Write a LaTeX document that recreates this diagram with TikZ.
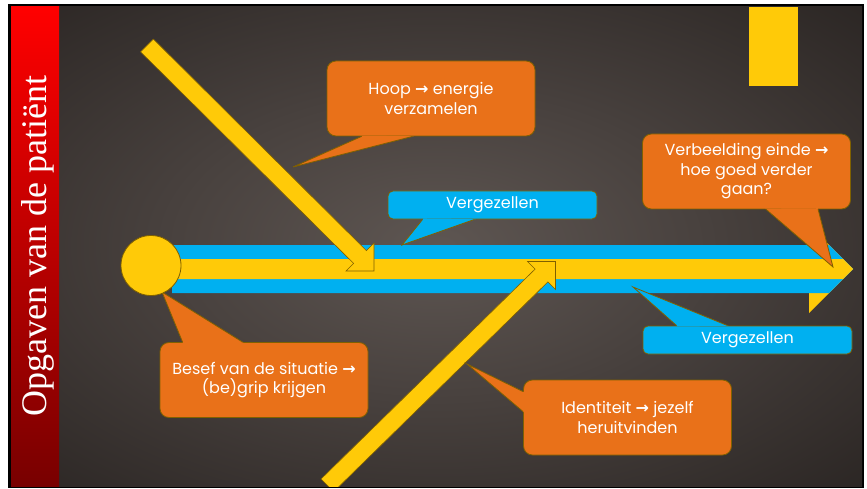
\documentclass[tikz,border=0pt]{standalone}
\usepackage{fontspec}
\usepackage{xcolor}
\usepackage{tikz}
\usetikzlibrary{calc}
\newfontfamily\callfont{Poppins}
\newfontfamily\arrowfont{DejaVu Sans}
\newfontfamily\titlefont{Liberation Serif}

\definecolor{spineyellow}{RGB}{255,202,8}
\definecolor{spineblue}{RGB}{0,176,240}
\definecolor{calloutorange}{RGB}{233,113,25}
\definecolor{rimolive}{RGB}{127,96,0}
\definecolor{bglite}{RGB}{94,86,82}
\definecolor{bgmid}{RGB}{72,65,62}
\definecolor{bgdark}{RGB}{40,35,33}
\definecolor{barred}{RGB}{255,0,0}
\definecolor{bardark}{RGB}{120,0,0}

\pgfdeclareradialshading{slidebg}{\pgfpoint{0bp}{0bp}}{color(0bp)=(bglite); color(16bp)=(bgmid); color(38bp)=(bgdark); color(50bp)=(bgdark)}

\newcommand{\arr}{{\arrowfont\bfseries →}}
% tail of a callout: colour, base a, base b, tip
\newcommand{\calltail}[4]{%
  \fill[#1] ($(#2)!-1.2pt!(#4)$) -- (#4) -- ($(#3)!-1.2pt!(#4)$) -- cycle;
  \draw[rim] (#2) -- (#4) -- (#3);}

\tikzset{
  rim/.style={draw=rimolive, line width=0.8pt, line join=miter},
  yarrow/.style={fill=spineyellow, draw=rimolive, line width=0.6pt},
  bubble/.style={fill=calloutorange, rim, rounded corners=9, minimum width=208, minimum height=75,
    inner sep=0, text=white, align=center, font=\callfont\fontsize{16}{19.5}\selectfont},
  tag/.style={fill=spineblue, rim, rounded corners=5, minimum width=209, minimum height=28,
    inner sep=0, text=white, align=center, font=\callfont\fontsize{16}{19.5}\selectfont}
}

\begin{document}
\begin{tikzpicture}[x=1pt,y=-1pt]
  \useasboundingbox (0,0) rectangle (867,489);
  \fill[white] (0,0) rectangle (867,489);
  \fill[black] (8,4) rectangle (864,488);
  \begin{scope}
  \clip (11,7) rectangle (862,486);
  \shade[shading=slidebg] (11,7) rectangle (862,486);

  % title bar
  \shade[top color=barred, bottom color=bardark] (11,7) rectangle (59,486);
  \node[rotate=90, anchor=base, text=white, font=\titlefont\fontsize{36}{40}\selectfont] (title) at (46.5,246) {Opgaven van de patiënt};

  \fill[spineyellow] (749,7) rectangle (798,86);

  % spine
  \coordinate (c) at (151,265.5);
  \coordinate (tip) at (853,269);
  \fill[spineyellow] (809,225) -- (tip) -- (809,313) -- cycle;
  \fill[spineblue] (172,245) -- (829,245) -- (tip) -- (829,293) -- (172,293) -- cycle;
  \fill[spineyellow] (172,259) -- (843,259) -- (tip) -- (843,279) -- (172,279) -- cycle;

  % side arrows
  \draw[yarrow] (153.4,39.1) -- (366.4,250.6) -- (374,243) -- (374,271) -- (346,271) -- (353.6,263.4) -- (140.6,51.9) -- cycle;
  \draw[yarrow] (333.7,491.7) -- (547.9,281.9) -- (555.5,289.5) -- (555.5,261.5) -- (527.5,261.5) -- (535.1,269.1) -- (321,479) -- cycle;

  % callouts
  \node[bubble] (hoop) at (431,98.5) {Hoop \arr{} energie\\verzamelen};
  \coordinate (hoop-tip) at (293,167);
  \calltail{calloutorange}{[xshift=35]hoop.south west}{[xshift=86]hoop.south west}{hoop-tip}

  \node[bubble] (einde) at (746.5,171.5) {Verbeelding einde \arr\\hoe goed verder\\gaan?};
  \coordinate (einde-tip) at (833,267);
  \calltail{calloutorange}{[xshift=124]einde.south west}{[xshift=176]einde.south west}{einde-tip}

  \node[bubble] (besef) at (264,380) {Besef van de situatie \arr\\(be)grip krijgen};
  \coordinate (besef-tip) at (162,292);
  \calltail{calloutorange}{[xshift=23]besef.north west}{[xshift=83]besef.north west}{besef-tip}

  \node[bubble] (ident) at (627.5,417.5) {Identiteit \arr{} jezelf\\heruitvinden};
  \coordinate (ident-tip) at (467,364);
  \calltail{calloutorange}{[yshift=-12]ident.north west}{[yshift=-32]ident.north west}{ident-tip}

  \node[tag] (verg-top) at (492.5,205) {Vergezellen};
  \coordinate (verg-top-tip) at (402,245);
  \calltail{spineblue}{[xshift=35]verg-top.south west}{[xshift=87]verg-top.south west}{verg-top-tip}

  \node[tag] (verg-low) at (747.5,340) {Vergezellen};
  \coordinate (verg-low-tip) at (633,287);
  \calltail{spineblue}{[xshift=34]verg-low.north west}{[xshift=85]verg-low.north west}{verg-low-tip}

  \node[circle, fill=spineyellow, rim, minimum size=60, inner sep=0] (start) at (c) {};
  \end{scope}
\end{tikzpicture}
\end{document}
